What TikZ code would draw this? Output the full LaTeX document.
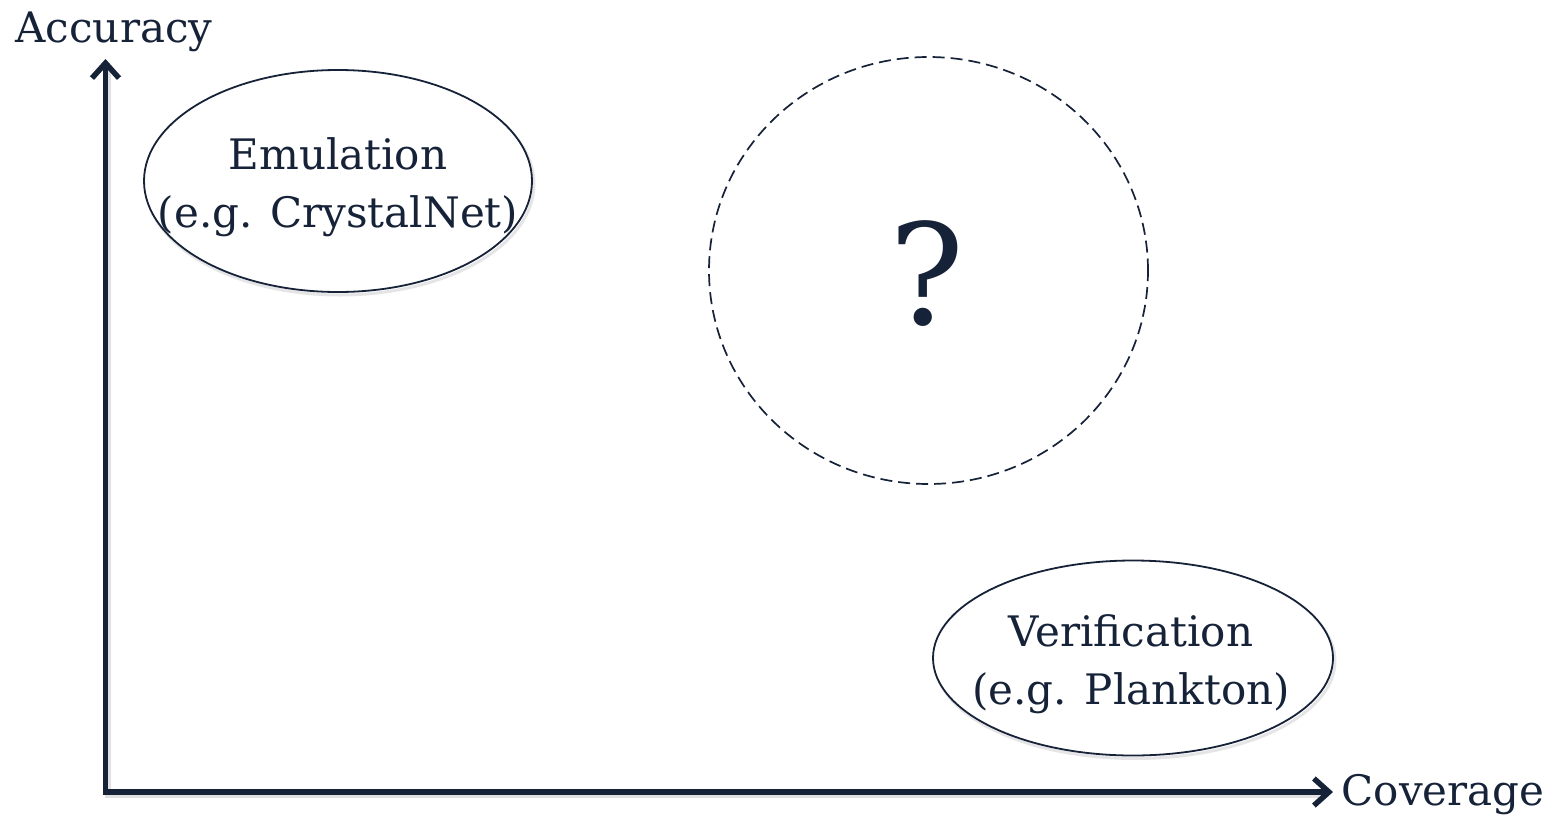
\documentclass[tikz,border=0pt]{standalone}
\usepackage{fontspec}
\setmainfont{DejaVu Serif}
\usetikzlibrary{arrows.meta,shapes.geometric}
\definecolor{ink}{RGB}{22,34,56}
\definecolor{haze}{RGB}{170,170,175}
\begin{document}
\begin{tikzpicture}[x=1pt,y=-1pt,
  axis/.style={draw=ink, line width=5.5pt, line join=miter,
    {Straight Barb[length=15pt,width=27pt]}-{Straight Barb[length=15pt,width=27pt]}},
  axishaze/.style={draw=haze, line width=6pt, opacity=0.35, line join=miter},
  oval/.style={ellipse, draw=ink, line width=1.8pt, inner sep=0pt},
  ovalhaze/.style={ellipse, draw=haze, line width=3pt, opacity=0.3, inner sep=0pt},
  guess/.style={ellipse, draw=ink, line width=1.7pt, dash pattern=on 12pt off 6pt, inner sep=0pt},
  lbl/.style={text=ink, inner sep=0pt, font=\fontsize{42}{58}\selectfont, align=center},
  qmark/.style={text=ink, inner sep=0pt, font=\fontsize{140}{150}\selectfont}]
\useasboundingbox (0,0) rectangle (1554,822);

% axes
\coordinate (origin) at (105.5,792);
\coordinate (ytip) at (105.5,59);
\coordinate (xtip) at (1333,792);
\coordinate (hyt) at (108,70);
\coordinate (hor) at (108,795);
\coordinate (hxt) at (1322,795);
\draw[axishaze] (hyt) -- (hor) -- (hxt);
\draw[axis] (ytip) -- (origin) -- (xtip);
\node[lbl, anchor=base] (acc) at (114,42) {Accuracy};
\node[lbl, anchor=base] (cov) at (1443,805) {Coverage};

% emulation region
\node[ovalhaze, minimum width=388pt, minimum height=222pt] (emuhaze) at (340,184) {};
\node[oval, fill=white, minimum width=388pt, minimum height=222pt] (emu) at (338,181) {};
\node[lbl] (emutext) at (338,187) {Emulation\\(e.g. CrystalNet)};

% verification region
\node[ovalhaze, minimum width=400pt, minimum height=195pt] (verhaze) at (1135,661) {};
\node[oval, fill=white, minimum width=400pt, minimum height=195pt] (ver) at (1133,658) {};
\node[lbl] (vertext) at (1131,664) {Verification\\(e.g. Plankton)};

% open question
\node[guess, minimum width=439pt, minimum height=427pt] (open) at (928.5,270.5) {};
\node[qmark] (q) at (927,274) {?};
\end{tikzpicture}
\end{document}
